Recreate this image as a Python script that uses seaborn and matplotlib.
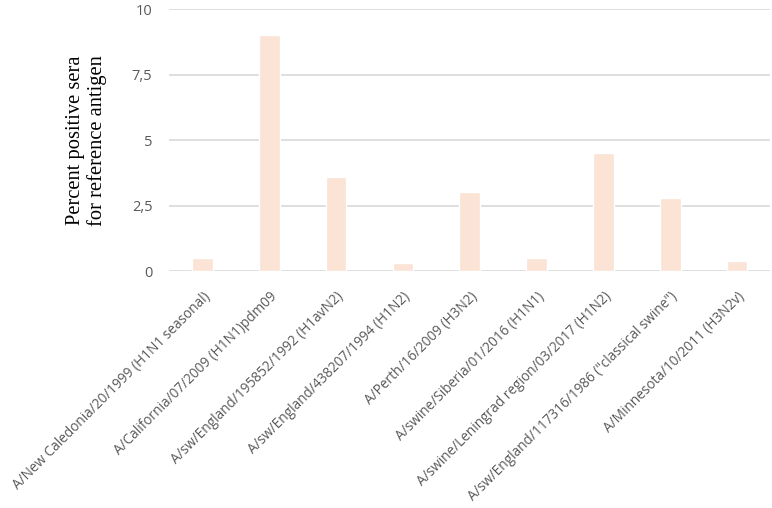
import matplotlib
matplotlib.use("Agg")
import matplotlib.pyplot as plt
import seaborn as sns
import pandas as pd
from matplotlib.ticker import FuncFormatter

strains = [
    "A/New Caledonia/20/1999 (H1N1 seasonal)",
    "A/California/07/2009 (H1N1)pdm09",
    "A/sw/England/195852/1992 (H1avN2)",
    "A/sw/England/438207/1994 (H1N2)",
    "A/Perth/16/2009 (H3N2)",
    "A/swine/Siberia/01/2016 (H1N1)",
    "A/swine/Leningrad region/03/2017 (H1N2)",
    "A/sw/England/117316/1986 (\"classical swine\")",
    "A/Minnesota/10/2011 (H3N2v)",
]
percent_positive = [0.5, 9.0, 3.6, 0.3, 3.0, 0.5, 4.5, 2.8, 0.4]
y_ticks = [0, 2.5, 5, 7.5, 10]

df = pd.DataFrame({"strain": strains, "pct": percent_positive})

sns.set_theme(style="white")
plt.rcParams['font.family'] = ['Open Sans', 'DejaVu Sans']

fig = plt.figure(figsize=(7.72, 5.08), dpi=100)
ax = fig.add_axes([0.219, 0.4665, 0.779, 0.5155])

sns.barplot(data=df, x="strain", y="pct", color="#FBE3D5", saturation=1,
            width=0.31, ax=ax, zorder=3)

ax.set_ylim(0, 10)
ax.set_xlim(-0.5, len(strains) - 0.5)
ax.set_yticks(y_ticks)
ax.yaxis.set_major_formatter(FuncFormatter(lambda v, p: (f"{v:g}").replace(".", ",")))
ax.grid(axis="y", color="#D9D9D9", linewidth=1.2, zorder=0)
for s in ax.spines.values():
    s.set_visible(False)
ax.tick_params(axis="both", length=0, colors="#595959")
ax.tick_params(axis="y", labelsize=10.5, pad=12)
ax.tick_params(axis="x", labelsize=9.8, pad=13)
for lbl in ax.get_xticklabels():
    lbl.set_rotation(45)
    lbl.set_ha("right")
    lbl.set_rotation_mode("anchor")

ax.set_xlabel("")
ax.set_ylabel("Percent positive sera\nfor reference antigen", family="Liberation Serif",
              fontsize=14.8, color="black", labelpad=18, linespacing=1.12)

fig.savefig("out.png", dpi=100)
